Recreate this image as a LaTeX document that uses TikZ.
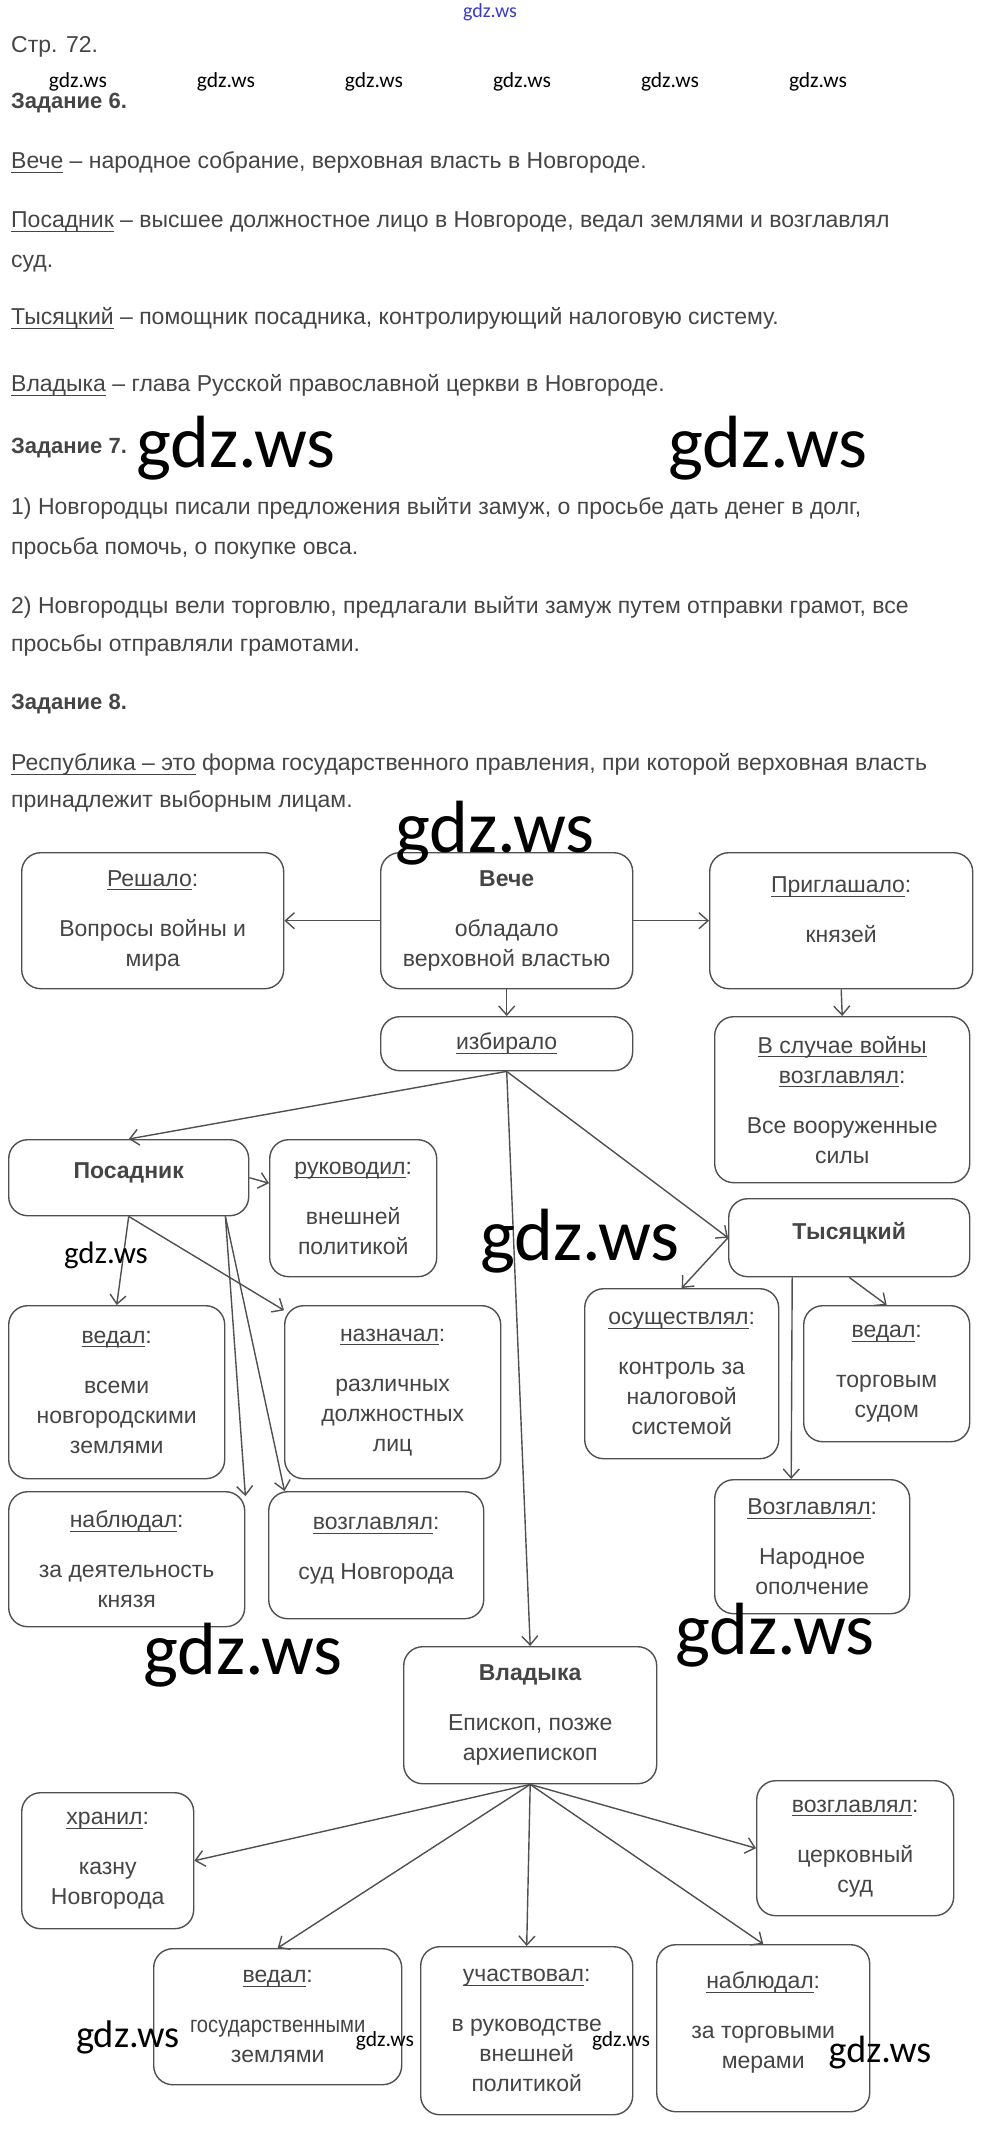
\documentclass[tikz,border=0pt]{standalone}
\usepackage{fontspec}
\setmainfont{Liberation Sans}
\newfontfamily\wmfont{Carlito}
\usetikzlibrary{arrows.meta}
\definecolor{txt}{HTML}{454545}
\definecolor{edge}{HTML}{505050}
\definecolor{wmblue}{HTML}{3A3ACC}
\newcommand{\undl}[1]{\setbox0\hbox{#1}\rlap{\rule[-4pt]{\wd0}{0.9pt}}\box0\relax}

\begin{document}
\begin{tikzpicture}[x=1pt, y=-1pt,
    box/.style={draw=edge, line width=1.4pt, rounded corners=19pt, anchor=north west,
      align=center, inner sep=0pt, text=txt, font=\fontsize{23}{30}\selectfont},
    body/.style={anchor=mid west, inner sep=0pt, text=txt, font=\fontsize{23}{26}\selectfont},
    wm/.style={inner sep=0pt, font=\wmfont},
    arr/.style={draw=edge, line width=1.4pt, -{Straight Barb[length=9pt,width=16pt]}}]

    \useasboundingbox[fill=white] (0,0) rectangle (982,2130);

    \node[body] (page) at (11,50) {Стр. 72.};
    \node[body, font=\bfseries\fontsize{22}{26}\selectfont] (task6) at (11,106) {Задание 6.};
    \node[body] (def1) at (11,166) {\undl{Вече} – народное собрание, верховная власть в Новгороде.};
    \node[body] (def2) at (11,225) {\undl{Посадник} – высшее должностное лицо в Новгороде, ведал землями и возглавлял};
    \node[body] (def2b) at (11,265) {суд.};
    \node[body] (def3) at (11,322) {\undl{Тысяцкий} – помощник посадника, контролирующий налоговую систему.};
    \node[body] (def4) at (11,389) {\undl{Владыка} – глава Русской православной церкви в Новгороде.};
    \node[body, font=\bfseries\fontsize{22}{26}\selectfont] (task7) at (11,451) {Задание 7.};
    \node[body] (ans1) at (11,512) {1) Новгородцы писали предложения выйти замуж, о просьбе дать денег в долг,};
    \node[body] (ans1b) at (11,552) {просьба помочь, о покупке овса.};
    \node[body] (ans2) at (11,611) {2) Новгородцы вели торговлю, предлагали выйти замуж путем отправки грамот, все};
    \node[body] (ans2b) at (11,649) {просьбы отправляли грамотами.};
    \node[body, font=\bfseries\fontsize{22}{26}\selectfont] (task8) at (11,707) {Задание 8.};
    \node[body] (rep) at (11,768) {\undl{Республика – это} форма государственного правления, при которой верховная власть};
    \node[body] (repb) at (11,805) {принадлежит выборным лицам.};

    \node[box, minimum width=262pt, minimum height=136pt] (resh) at (21,852) {\undl{Решало}:\\[20pt]Вопросы войны и\\мира};
    \node[box, minimum width=252pt, minimum height=136pt] (veche) at (380,852) {\textbf{Вече}\\[20pt]обладало\\верховной властью};
    \node[box, minimum width=263pt, minimum height=136pt, text depth=22pt] (prig) at (709,852) {\undl{Приглашало}:\\[20pt]князей};
    \node[box, minimum width=252pt, minimum height=54pt] (izb) at (380,1016) {\undl{избирало}};
    \node[box, minimum width=255pt, minimum height=166pt] (vsl) at (714,1016) {\undl{В случае войны}\\\undl{возглавлял}:\\[20pt]Все вооруженные\\силы};
    \node[box, minimum width=240pt, minimum height=76pt, text depth=14pt] (pos) at (8,1139) {\textbf{Посадник}};
    \node[box, minimum width=167pt, minimum height=137pt] (ruk) at (269,1139) {\undl{руководил}:\\[20pt]внешней\\политикой};
    \node[box, minimum width=241pt, minimum height=78pt, text depth=14pt] (tys) at (728,1198) {\textbf{Тысяцкий}};
    \node[box, minimum width=216pt, minimum height=173pt] (ved1) at (8,1305) {\undl{ведал}:\\[20pt]всеми\\новгородскими\\землями};
    \node[box, minimum width=216pt, minimum height=173pt] (naz) at (284,1305) {\undl{назначал}:\\[20pt]различных\\должностных\\лиц};
    \node[box, minimum width=236pt, minimum height=135pt] (nab1) at (8,1491) {\undl{наблюдал}:\\[20pt]за деятельность\\князя};
    \node[box, minimum width=215pt, minimum height=127pt, text depth=14pt] (voz1) at (268,1491) {\undl{возглавлял}:\\[20pt]суд Новгорода};
    \node[box, minimum width=194pt, minimum height=170pt] (osu) at (584,1288) {\undl{осуществлял}:\\[20pt]контроль за\\налоговой\\системой};
    \node[box, minimum width=166pt, minimum height=136pt] (ved2) at (803,1305) {\undl{ведал}:\\[20pt]торговым\\судом};
    \node[box, minimum width=195pt, minimum height=134pt] (voz2) at (714,1479) {\undl{Возглавлял}:\\[20pt]Народное\\ополчение};
    \node[box, minimum width=253pt, minimum height=137pt] (vlad) at (403,1646) {\textbf{Владыка}\\[20pt]Епископ, позже\\архиепископ};
    \node[box, minimum width=172pt, minimum height=136pt] (khr) at (21,1792) {\undl{хранил}:\\[20pt]казну\\Новгорода};
    \node[box, minimum width=197pt, minimum height=135pt] (voz3) at (756,1780) {\undl{возглавлял}:\\[20pt]церковный\\суд};
    \node[box, minimum width=248pt, minimum height=136pt] (ved3) at (153,1948) {\undl{ведал}:\\[20pt]\scalebox{0.88}[1]{государственными}\\землями};
    \node[box, minimum width=212pt, minimum height=168pt] (uch) at (420,1946) {\undl{участвовал}:\\[20pt]в руководстве\\внешней\\политикой};
    \node[box, minimum width=213pt, minimum height=167pt, text depth=16pt] (nab3) at (656,1944) {\undl{наблюдал}:\\[20pt]за торговыми\\мерами};

    \draw[arr] (veche.west) -- (resh.east);
    \draw[arr] (veche.east) -- (prig.west);
    \draw[arr] (veche.south) -- (izb.north);
    \draw[arr] (prig.south) -- (vsl.north);
    \draw[arr] (izb.south) -- (pos.north);
    \draw[arr] (izb.south) -- (tys.west);
    \draw[arr] (izb.south) -- (vlad.north);
    \draw[arr] (pos.east) -- ([yshift=25pt]ruk.west);
    \draw[arr] (pos.south) -- (ved1.north);
    \draw[arr] (pos.south) -- (naz.143);
    \draw[arr] ([xshift=-24pt]pos.south east) -- (nab1.28);
    \draw[arr] ([xshift=-24pt]pos.south east) -- (voz1.145);
    \draw[arr] (tys.west) -- (osu.north);
    \draw[arr] (tys.south) -- (ved2.north);
    \draw[arr] ([xshift=-57pt]tys.south) -- ([xshift=-21pt]voz2.north);
    \foreach \t in {khr.east, voz3.west, ved3.north, uch.north, nab3.north}
        \draw[arr] (vlad.south) -- (\t);

    \node[wm, text=wmblue, font=\wmfont\fontsize{20}{20}\selectfont] (wm0) at (490,12) {gdz.ws};
    \foreach \x [count=\i] in {78,226,374,522,670,818}
        \node[wm, font=\wmfont\fontsize{21.5}{22}\selectfont] (wmr\i) at (\x,82) {gdz.ws};
    \node[wm, font=\wmfont\fontsize{74}{74}\selectfont] (wm1) at (236,448) {gdz.ws};
    \node[wm, font=\wmfont\fontsize{74}{74}\selectfont] (wm2) at (768,448) {gdz.ws};
    \node[wm, font=\wmfont\fontsize{74}{74}\selectfont] (wm3) at (495,833) {gdz.ws};
    \node[wm, font=\wmfont\fontsize{74}{74}\selectfont] (wm4) at (580,1241) {gdz.ws};
    \node[wm, font=\wmfont\fontsize{74}{74}\selectfont] (wm5) at (243,1655) {gdz.ws};
    \node[wm, font=\wmfont\fontsize{74}{74}\selectfont] (wm6) at (775,1635) {gdz.ws};
    \node[wm, font=\wmfont\fontsize{31}{31}\selectfont] (wm7) at (106,1255) {gdz.ws};
    \node[wm, font=\wmfont\fontsize{38.5}{38}\selectfont] (wm8) at (128,2037) {gdz.ws};
    \node[wm, font=\wmfont\fontsize{38}{38}\selectfont] (wm9) at (880,2053) {gdz.ws};
    \node[wm, font=\wmfont\fontsize{21.5}{22}\selectfont] (wm10) at (385,2041) {gdz.ws};
    \node[wm, font=\wmfont\fontsize{21.5}{22}\selectfont] (wm11) at (621,2041) {gdz.ws};
\end{tikzpicture}
\end{document}
